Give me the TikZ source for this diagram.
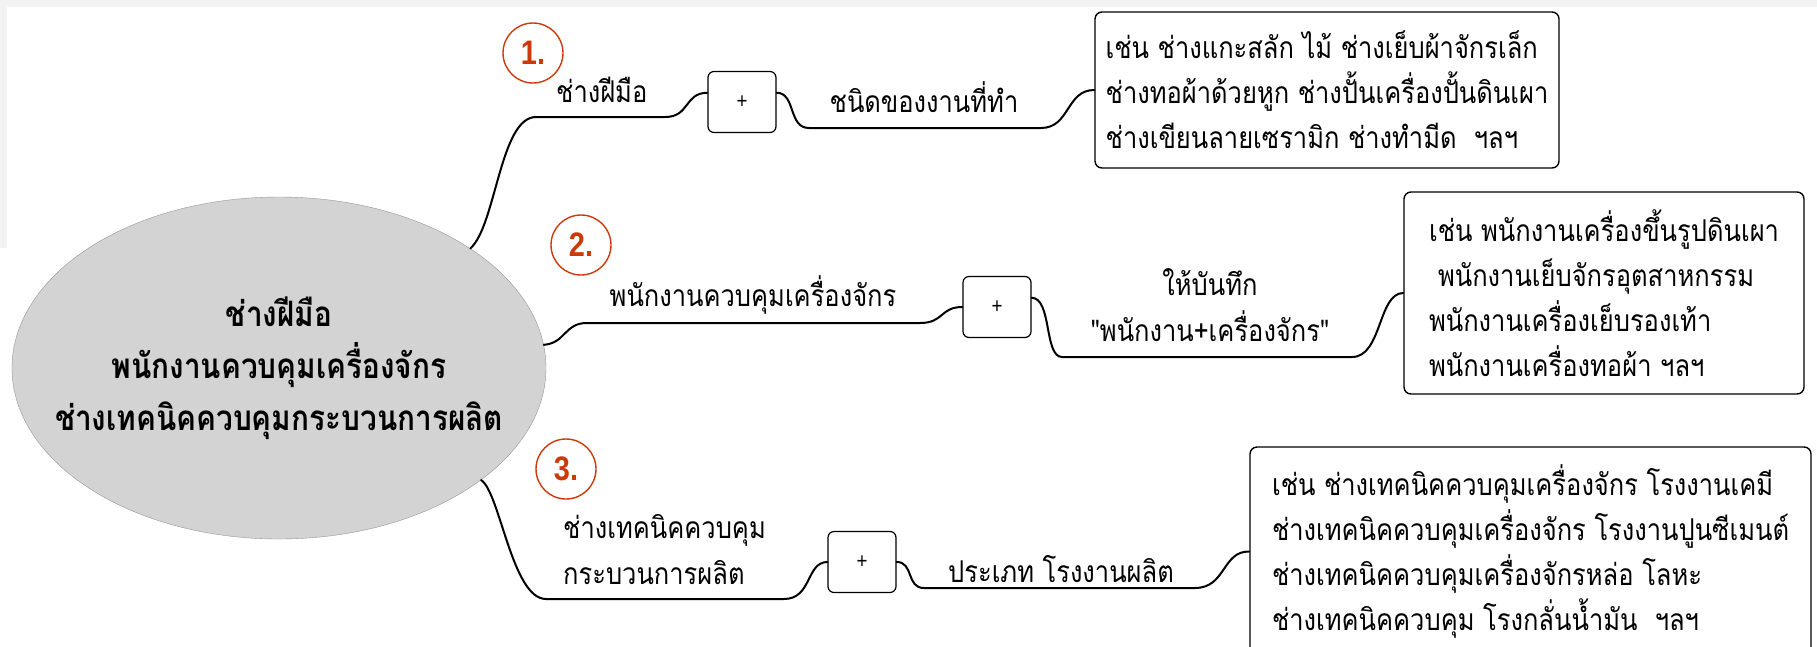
\documentclass[tikz,border=0pt]{standalone}
\usepackage{fontspec}
\newfontfamily\thaifont[Script=Thai,FakeStretch=0.85]{Loma}
\newfontfamily\numfont[FakeStretch=0.85]{Liberation Sans}
\usetikzlibrary{shapes.geometric, positioning}
\definecolor{hubGray}{RGB}{211, 211, 211}
\definecolor{hubEdge}{RGB}{150, 150, 150}
\definecolor{badgeRed}{RGB}{204, 58, 10}
\definecolor{screenGray}{RGB}{243, 243, 243}

\begin{document}
\begin{tikzpicture}[
    x=1pt, y=-1pt,
    hub/.style={
        ellipse,
        draw=hubEdge,
        fill=hubGray,
        minimum width=534pt,
        minimum height=342pt,
        inner sep=0pt
    },
    hubtext/.style={inner sep=0pt, align=center, font=\thaifont\bfseries\fontsize{35}{52}\selectfont},
    badge/.style={circle, draw=badgeRed, line width=1.4pt, minimum size=60pt,
        inner sep=0pt, text=badgeRed, font=\numfont\bfseries\fontsize{34}{34}\selectfont},
    twig/.style={inner sep=0pt, align=left, font=\thaifont\fontsize{30}{46}\selectfont},
    plusbox/.style={rectangle, draw, line width=1.2pt, rounded corners=6pt,
        minimum width=68pt, minimum height=61pt, font=\numfont\fontsize{22}{22}\selectfont},
    infobox/.style={rectangle, draw, line width=1.4pt, rounded corners=7pt,
        align=left, inner sep=0pt, font=\thaifont\fontsize{30}{45}\selectfont},
    branch/.style={line width=2pt, line cap=round}
]
    \useasboundingbox (0,0) rectangle (1817,646);
    \fill[white] (0,0) rectangle (1817,646);
    \fill[screenGray] (0,0) rectangle (1817,7);
    \fill[screenGray] (0,0) rectangle (7,248);

    % Central topic
    \node[hub] (hub) at (279,368) {};
    \node[hubtext] (hubtext) at (hub.center) {ช่างฝีมือ\\พนักงานควบคุมเครื่องจักร\\ช่างเทคนิคควบคุมกระบวนการผลิต};

    % Badges
    \node[badge] (num1) at (533,53) {1.};
    \node[badge] (num2) at (581,245) {2.};
    \node[badge] (num3) at (566,469) {3.};

    % Row 1
    \node[twig, anchor=west] (craft) at (556,90) {ช่างฝีมือ};
    \node[plusbox] (plusA) at (742,102) {+};
    \node[twig] (kind) at (924,97) {ชนิดของงานที่ทำ};
    \node[infobox, minimum width=464pt, minimum height=156pt] (exA) at (1327,90)
        {เช่น ช่างแกะสลัก ไม้ ช่างเย็บผ้าจักรเล็ก\\ช่างทอผ้าด้วยหูก ช่างปั้นเครื่องปั้นดินเผา\\ช่างเขียนลายเซรามิก ช่างทำมีด~ ฯลฯ};
    \coordinate (a1) at (536,117);
    \coordinate (a2) at (665,117);
    \coordinate (a3) at (809,128);
    \coordinate (a4) at (1041,128);

    % Row 2
    \node[twig] (operator) at (753,295) {พนักงานควบคุมเครื่องจักร};
    \node[plusbox] (plusB) at (997,307) {+};
    \node[twig, align=center] (record) at (1210,305) {ให้บันทึก\\"พนักงาน+เครื่องจักร"};
    \node[infobox, minimum width=400pt, minimum height=202pt] (exB) at (1604,293)
        {เช่น พนักงานเครื่องขึ้นรูปดินเผา\\\hspace*{0.3em}พนักงานเย็บจักรอุตสาหกรรม\\พนักงานเครื่องเย็บรองเท้า\\พนักงานเครื่องทอผ้า ฯลฯ};
    \coordinate (b1) at (587,323);
    \coordinate (b2) at (920,323);
    \coordinate (b3) at (1062,357);
    \coordinate (b4) at (1352,357);

    % Row 3
    \node[twig, anchor=west] (technician) at (563,550) {ช่างเทคนิคควบคุม\\กระบวนการผลิต};
    \node[plusbox] (plusC) at (862,562) {+};
    \node[twig] (plant) at (1061,569) {ประเภท โรงงานผลิต};
    \node[infobox, minimum width=561pt, minimum height=209pt] (exC) at (1530.5,551.5)
        {เช่น ช่างเทคนิคควบคุมเครื่องจักร โรงงานเคมี\\ช่างเทคนิคควบคุมเครื่องจักร โรงงานปูนซีเมนต์\\ช่างเทคนิคควบคุมเครื่องจักรหล่อ โลหะ\\ช่างเทคนิคควบคุม โรงกลั่นน้ำมัน~ ฯลฯ};
    \coordinate (c1) at (546,599);
    \coordinate (c2) at (784,599);
    \coordinate (c3) at (924,588);
    \coordinate (c4) at (1195,588);

    % Connections
    \draw[branch] (hub.32) .. controls (496,226) and (500,117) .. (a1) -- (a2)
        .. controls (690,117) and (684,93) .. (plusA.165);
    \draw[branch] (plusA.15) .. controls (796,93) and (788,128) .. (a3) -- (a4)
        .. controls (1070,128) and (1066,90) .. (exA.west);
    \draw[branch] (hub.5) .. controls (566,343) and (564,323) .. (b1) -- (b2)
        .. controls (944,323) and (940,307) .. (plusB.west);
    \draw[branch] (plusB.15) .. controls (1052,298) and (1044,357) .. (b3) -- (b4)
        .. controls (1382,357) and (1378,293) .. (exB.west);
    \draw[branch] (hub.-29) .. controls (500,492) and (512,599) .. (c1) -- (c2)
        .. controls (812,599) and (806,562) .. (plusC.west);
    \draw[branch] (plusC.east) .. controls (914,562) and (906,588) .. (c3) -- (c4)
        .. controls (1226,588) and (1222,551) .. (exC.west);

\end{tikzpicture}
\end{document}
